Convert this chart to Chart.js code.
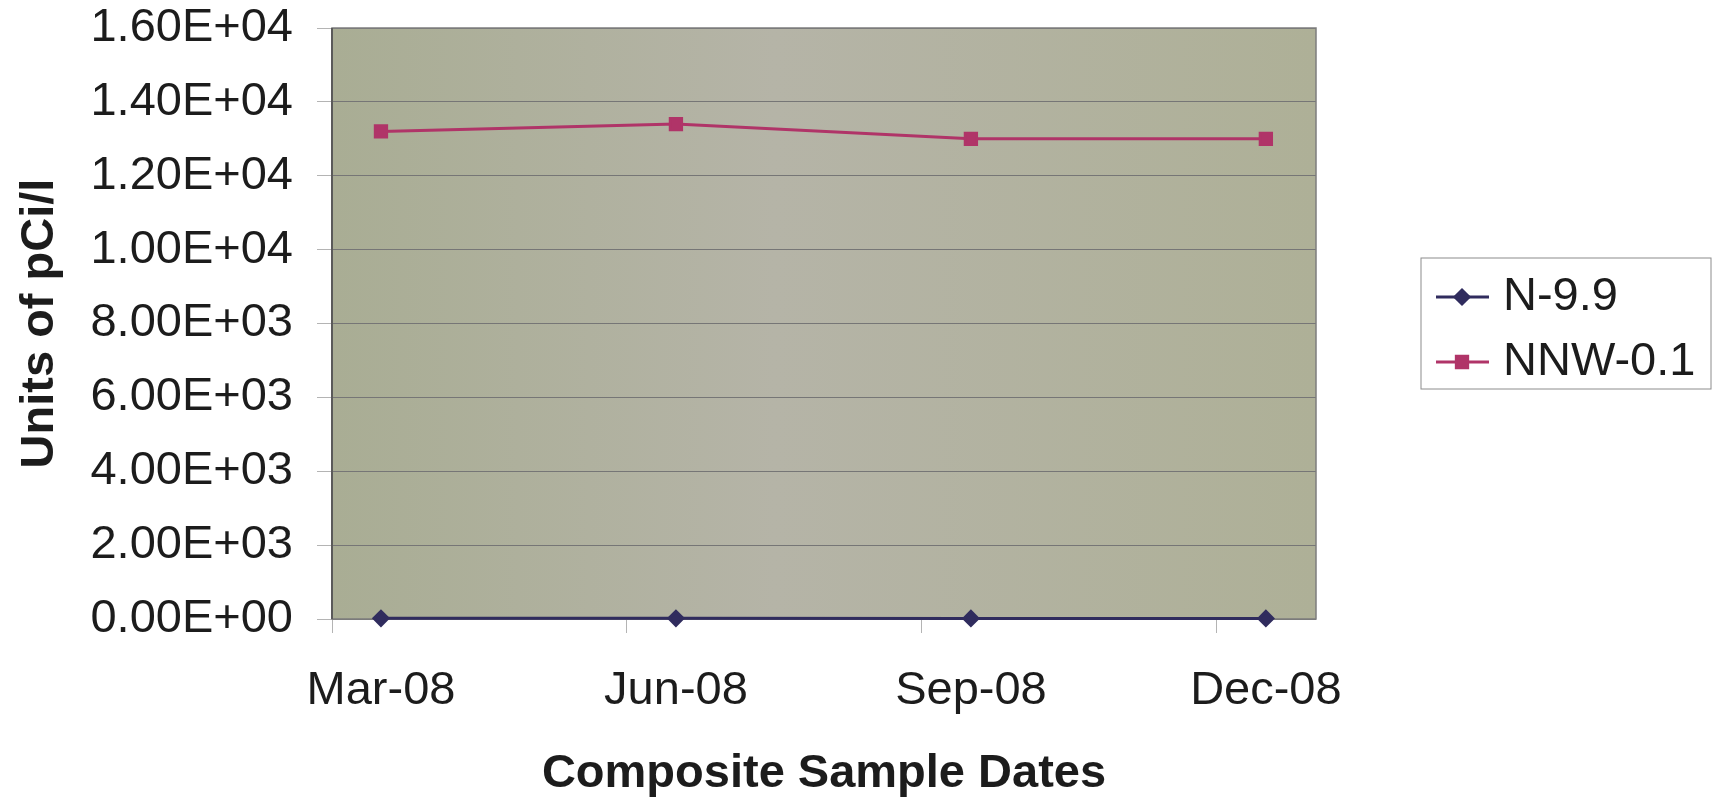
<!DOCTYPE html>
<html>
<head>
<meta charset="utf-8">
<script src="https://cdn.jsdelivr.net/npm/chart.js@4.4.1/dist/chart.umd.min.js"></script>
<style>
	html, body { margin: 0; padding: 0; background: #fff; }
	#wrap { width: 1714px; height: 797px; }
</style>
</head>
<body>
<div id="wrap"><canvas id="chart" width="1714" height="797"></canvas></div>
<script>
// Sample dates and results (pCi/l)
const months = ["Mar-08", "Jun-08", "Sep-08", "Dec-08"];
const n99 = [20, 18, 15, 15];
const nnw01 = [13200, 13400, 13000, 13000];
const seriesNames = ["N-9.9", "NNW-0.1"];

const fontFamily = "'Liberation Sans', Arial, sans-serif";
const textColor = "#1c1c1c";
const tickShift = 0.166; // excel puts the date tick marks a bit before each point

function sci(v) {
	const parts = v.toExponential(2).split("e");
	const ex = Math.abs(Number(parts[1]));
	const sign = Number(parts[1]) < 0 ? "-" : "+";
	return parts[0] + "E" + sign + (ex < 10 ? "0" + ex : ex);
}

const toPoints = arr => arr.map((v, i) => ({ x: i, y: v }));

// grey-olive plot fill + frame
const plotArea = {
	id: "plotArea",
	beforeDraw(chart) {
		const { ctx, chartArea: a } = chart;
		const g = ctx.createLinearGradient(a.left, 0, a.right, 0);
		g.addColorStop(0, "#a9ad94");
		g.addColorStop(0.45, "#b5b4a7");
		g.addColorStop(1, "#aeb097");
		ctx.save();
		ctx.fillStyle = g;
		ctx.fillRect(a.left, a.top, a.right - a.left, a.bottom - a.top);
		ctx.restore();
	},
	beforeDatasetsDraw(chart) {
		const { ctx, chartArea: a } = chart;
		ctx.save();
		ctx.strokeStyle = "#7d7d7d";
		ctx.lineWidth = 1.5;
		ctx.strokeRect(a.left, a.top, a.right - a.left, a.bottom - a.top);
		ctx.strokeStyle = "#5a5a5a";
		ctx.lineWidth = 2;
		ctx.beginPath();
		ctx.moveTo(a.left, a.top);
		ctx.lineTo(a.left, a.bottom);
		ctx.stroke();
		ctx.restore();
	},
};

// boxed legend to the right, centred on the plot
const boxLegend = {
	id: "boxLegend",
	afterDraw(chart) {
		const { ctx, chartArea: a } = chart;
		const left = a.right + 105;
		const mid = (a.top + a.bottom) / 2;
		const top = mid - 65.5;
		ctx.save();
		ctx.strokeStyle = "#8c8c8c";
		ctx.lineWidth = 1;
		ctx.strokeRect(left, top, 290, 131);
		chart.data.datasets.forEach((ds, i) => {
			const y = top + 39 + i * 65;
			ctx.strokeStyle = ds.borderColor;
			ctx.lineWidth = 3;
			ctx.beginPath();
			ctx.moveTo(left + 15, y);
			ctx.lineTo(left + 68, y);
			ctx.stroke();
			ctx.fillStyle = ds.pointBackgroundColor;
			ctx.strokeStyle = ds.pointBorderColor;
			Chart.helpers.drawPoint(ctx, { pointStyle: ds.pointStyle, radius: ds.pointRadius, rotation: 0, borderWidth: 1 }, left + 41, y);
			ctx.fillStyle = textColor;
			ctx.font = "47px " + fontFamily;
			ctx.textAlign = "left";
			ctx.textBaseline = "middle";
			ctx.fillText(ds.label, left + 82, y);
		});
		ctx.restore();
	},
};

const ctx = document.getElementById("chart");

new Chart(ctx, {
	type: "line",
	data: {
		datasets: [
			{
				label: seriesNames[0],
				data: toPoints(n99),
				borderColor: "#302c5e",
				borderWidth: 3,
				pointStyle: "rectRot",
				pointRadius: 7,
				pointBackgroundColor: "#302c5e",
				pointBorderColor: "#302c5e",
				clip: false,
			},
			{
				label: seriesNames[1],
				data: toPoints(nnw01),
				borderColor: "#b03468",
				borderWidth: 3,
				pointStyle: "rect",
				pointRadius: 8,
				pointBackgroundColor: "#b03468",
				pointBorderColor: "#b03468",
				clip: false,
			},
		],
	},
	options: {
		responsive: false,
		animation: false,
		layout: {
			padding: { top: 28, right: 398, bottom: 0, left: 0 },
		},
		plugins: {
			legend: { display: false },
			tooltip: { enabled: false },
		},
		elements: {
			line: { tension: 0 },
		},
		scales: {
			x: {
				type: "linear",
				min: -tickShift,
				max: 3.17,
				afterBuildTicks: scale => {
					scale.ticks = months.map((m, i) => ({ value: i - tickShift }));
				},
				afterFit: scale => {
					scale.height = 178;
				},
				grid: {
					drawOnChartArea: false,
					drawTicks: true,
					tickLength: 14,
					tickColor: "#b4b4b4",
				},
				border: { display: false },
				ticks: {
					callback: (v, i) => months[i],
					labelOffset: 49,
					padding: 30,
					maxRotation: 0,
					autoSkip: false,
					color: textColor,
					font: { family: fontFamily, size: 47 },
				},
				title: {
					display: true,
					text: "Composite Sample Dates",
					color: textColor,
					padding: { top: 0, bottom: -5 },
					font: { family: fontFamily, size: 47, weight: "bold" },
				},
			},
			y: {
				min: 0,
				max: 16000,
				afterFit: scale => {
					scale.width = 332;
					// tick padding would otherwise push the plot top down
					scale.paddingTop = 0;
					scale.paddingBottom = 0;
				},
				grid: {
					color: "#767676",
					lineWidth: 1,
					tickLength: 15,
					tickColor: "#b4b4b4",
				},
				border: { display: false },
				ticks: {
					stepSize: 2000,
					padding: 24,
					color: textColor,
					font: { family: fontFamily, size: 47 },
					callback: v => sci(v),
				},
				title: {
					display: true,
					text: "Units of pCi/l",
					color: textColor,
					padding: { top: 12, bottom: 0 },
					font: { family: fontFamily, size: 47, weight: "bold" },
				},
			},
		},
	},
	plugins: [plotArea, boxLegend],
});
</script>
</body>
</html>
